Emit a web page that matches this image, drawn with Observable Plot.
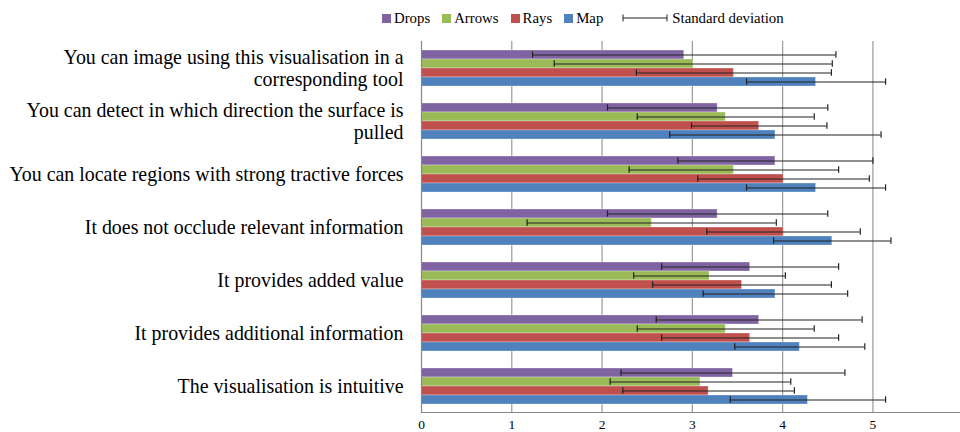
<!DOCTYPE html>
<html>
<head>
<meta charset="utf-8">
<script src="https://cdn.jsdelivr.net/npm/d3@7"></script>
<script src="https://cdn.jsdelivr.net/npm/@observablehq/plot@0.6"></script>
<style>
  body { margin: 0; background: #fff; }
  #legend { display: flex; align-items: center; height: 36px; padding-left: 382px; font: 14.8px "Liberation Serif", serif; color: #000; box-sizing: border-box; }
  #legend .sw { width: 9px; height: 9px; margin-right: 3px; }
  #legend .item { display: flex; align-items: center; margin-right: 12px; }
  #legend .sd { margin-left: 7px; display: flex; align-items: center; }
  #legend .sd svg { margin-right: 4px; }
</style>
</head>
<body>
<div id="legend"></div>
<div id="chart"></div>
<script>
const questions = [
  "You can image using this visualisation in a corresponding tool",
  "You can detect in which direction the surface is pulled",
  "You can locate regions with strong tractive forces",
  "It does not occlude relevant information",
  "It provides added value",
  "It provides additional information",
  "The visualisation is intuitive"
];
const series = ["Drops", "Arrows", "Rays", "Map"];
const colors = ["#8064A2", "#9BBB59", "#C0504D", "#4F81BD"];

const dropsMean  = [2.91, 3.28, 3.92, 3.28, 3.64, 3.74, 3.45];
const dropsSd    = [1.68, 1.22, 1.08, 1.22, 0.98, 1.14, 1.24];
const arrowsMean = [3.01, 3.37, 3.46, 2.55, 3.19, 3.37, 3.09];
const arrowsSd   = [1.54, 0.98, 1.16, 1.38, 0.84, 0.98, 1.00];
const raysMean   = [3.46, 3.74, 4.01, 4.01, 3.55, 3.64, 3.18];
const raysSd     = [1.08, 0.75, 0.95, 0.85, 0.99, 0.98, 0.95];
const mapMean    = [4.37, 3.92, 4.37, 4.55, 3.92, 4.19, 4.28];
const mapSd      = [0.77, 1.17, 0.77, 0.65, 0.80, 0.72, 0.86];

const xTicks = [0, 1, 2, 3, 4, 5];

const means = [dropsMean, arrowsMean, raysMean, mapMean];
const sds = [dropsSd, arrowsSd, raysSd, mapSd];
const data = questions.flatMap((q, i) => series.map((s, j) => ({
  question: q, series: s, mean: means[j][i], sd: sds[j][i]
})));

function wrap(text, max = 50) {
  const words = text.split(" ");
  const lines = [];
  let cur = "";
  for (const w of words) {
    if (cur && (cur + " " + w).length > max) { lines.push(cur); cur = w; }
    else cur = cur ? cur + " " + w : w;
  }
  if (cur) lines.push(cur);
  return lines.join("\n");
}

// legend
const legend = document.getElementById("legend");
series.forEach((s, j) => {
  const it = document.createElement("div");
  it.className = "item";
  it.innerHTML = `<div class="sw" style="background:${colors[j]}"></div><span>${s}</span>`;
  legend.appendChild(it);
});
const sdItem = document.createElement("div");
sdItem.className = "sd";
sdItem.innerHTML = `<svg width="46" height="10"><line x1="1" y1="5" x2="45" y2="5" stroke="#222" stroke-width="1"/><line x1="1" y1="1.5" x2="1" y2="8.5" stroke="#222"/><line x1="45" y1="1.5" x2="45" y2="8.5" stroke="#222"/></svg><span>Standard deviation</span>`;
legend.appendChild(sdItem);

const lo = d => d.mean - d.sd;
const hi = d => d.mean + d.sd;
const serif = "'Liberation Serif', 'Times New Roman', serif";

const chart = Plot.plot({
  width: 960,
  height: 396,
  marginLeft: 421,
  marginRight: 0,
  marginTop: 4,
  marginBottom: 20,
  style: { fontFamily: serif, color: "#000", background: "#fff" },
  x: { domain: [0, 5.97], axis: null },
  y: { domain: series, paddingInner: 0, paddingOuter: 0.76, axis: null },
  fy: { domain: questions, padding: 0, axis: null, label: null },
  color: { domain: series, range: colors },
  marks: [
    Plot.gridX(xTicks.slice(1), { stroke: "#999", strokeOpacity: 1, strokeWidth: 1.2 }),
    Plot.barX(data, { fy: "question", y: "series", x: "mean", fill: "series", stroke: "#fff", strokeOpacity: 0.3, strokeWidth: 1 }),
    Plot.ruleY(data, { fy: "question", y: "series", x1: lo, x2: hi, stroke: "#222", strokeWidth: 1.2 }),
    Plot.tickX(data, { fy: "question", y: "series", x: lo, stroke: "#222", strokeWidth: 1.2, insetTop: 1.3, insetBottom: 1.3 }),
    Plot.tickX(data, { fy: "question", y: "series", x: hi, stroke: "#222", strokeWidth: 1.2, insetTop: 1.3, insetBottom: 1.3 }),
    Plot.ruleX([0], { stroke: "#888", strokeWidth: 1.2 }),
    Plot.frame({ anchor: "bottom", facetAnchor: "bottom", stroke: "#888", strokeWidth: 1.2 }),
    Plot.axisX(xTicks, { anchor: "bottom", tickSize: 0, tickPadding: 7, fontSize: 13.5, fontFamily: serif, label: null, tickFormat: d => String(d) }),
    Plot.axisFy({ anchor: "left", tickSize: 0, tickPadding: 18, fontSize: 19.9, fontFamily: serif, lineHeight: 1.1, label: null, tickFormat: d => wrap(d) })
  ]
});
document.getElementById("chart").appendChild(chart);
</script>
</body>
</html>
